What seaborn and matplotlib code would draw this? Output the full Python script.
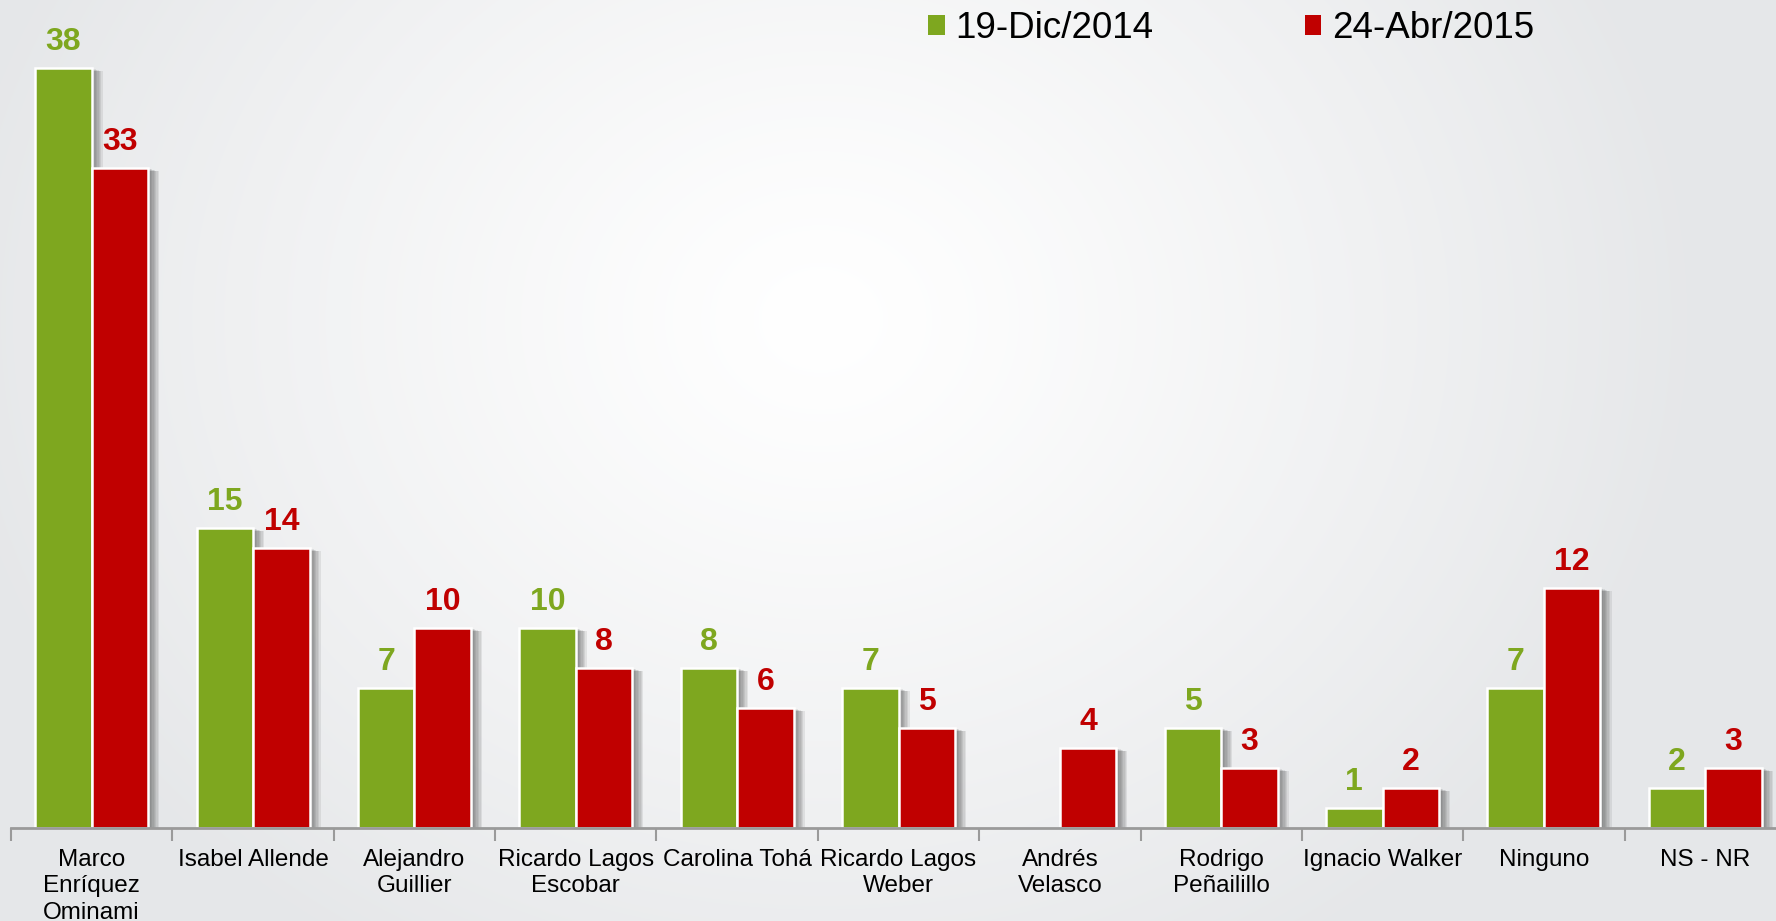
import matplotlib
matplotlib.use("Agg")
import matplotlib.pyplot as plt
import matplotlib.patheffects as pe
from matplotlib.patches import Patch
import numpy as np
import pandas as pd
import seaborn as sns

# ── Datos ────────────────────────────────────────────────────────────────────
candidatos = ["Marco\nEnríquez\nOminami", "Isabel Allende", "Alejandro\nGuillier",
              "Ricardo Lagos\nEscobar", "Carolina Tohá", "Ricardo Lagos\nWeber",
              "Andrés\nVelasco", "Rodrigo\nPeñailillo", "Ignacio Walker",
              "Ninguno", "NS - NR"]
fechas = ["19-Dic/2014", "24-Abr/2015"]
dic_2014 = [38, 15, 7, 10, 8, 7, np.nan, 5, 1, 7, 2]
abr_2015 = [33, 14, 10, 8, 6, 5, 4, 3, 2, 12, 3]

verde = "#7ea71f"
rojo = "#c00000"

df = pd.DataFrame({
    "candidato": candidatos * 2,
    "fecha": [fechas[0]] * len(candidatos) + [fechas[1]] * len(candidatos),
    "valor": dic_2014 + abr_2015,
})

sns.set_style("white")
plt.rcParams["font.family"] = ["Liberation Sans", "DejaVu Sans"]

W, H = 1776, 921
fig = plt.figure(figsize=(W / 100, H / 100), dpi=100)

# ── Fondo con degradado radial ───────────────────────────────────────────────
bg = fig.add_axes([0, 0, 1, 1], zorder=0)
yy, xx = np.mgrid[0:H, 0:W]
r = np.sqrt(((xx - 820) / 1.0) ** 2 + ((yy - 320) / 0.85) ** 2)
t = np.clip(r / 880, 0, 1) ** 1.2
c0 = np.array([1.0, 1.0, 1.0])
c1 = np.array([0.900, 0.906, 0.914])
img = c0[None, None, :] * (1 - t[..., None]) + c1[None, None, :] * t[..., None]
bg.imshow(img, aspect="auto", extent=[0, 1, 0, 1])
bg.axis("off")

# ── Barras ───────────────────────────────────────────────────────────────────
ax = fig.add_axes([11 / W, 1 - 828 / H, 1775 / W, 828 / H], zorder=1)
ax.patch.set_alpha(0)
sns.barplot(data=df, x="candidato", y="valor", hue="fecha", order=candidatos,
            hue_order=fechas, palette=[verde, rojo], width=0.7, saturation=1,
            edgecolor="white", linewidth=1.8, legend=False, ax=ax)

sombra = [pe.SimplePatchShadow(offset=(o, -o * 0.3), shadow_rgbFace="#444444", alpha=0.1)
          for o in (8, 7, 6, 5, 4, 3, 2)] + [pe.Normal()]
for p in ax.patches:
    p.set_path_effects(sombra)

for cont, col in zip(ax.containers, [verde, rojo]):
    etiquetas = [f"{v:.0f}" if np.isfinite(v) and v > 0 else "" for v in cont.datavalues]
    ax.bar_label(cont, labels=etiquetas, padding=8, color=col, fontsize=23,
                 fontweight="bold")

ax.set_xlim(-0.5, 10.5)
ax.set_ylim(0, 41.4)
ax.set_yticks([])
ax.set_xlabel("")
ax.set_ylabel("")
for s in ["left", "top", "right"]:
    ax.spines[s].set_visible(False)
ax.spines["bottom"].set_color("#9a9a9a")
ax.spines["bottom"].set_linewidth(2)
ax.set_xticks(np.arange(-0.5, 11, 1), minor=True)
ax.tick_params(axis="x", which="major", bottom=False, length=0, pad=15,
               labelsize=17.5, labelcolor="black")
ax.tick_params(axis="x", which="minor", bottom=True, length=9, width=1.5,
               color="#9a9a9a", direction="out")
for lbl in ax.get_xticklabels():
    lbl.set_linespacing(1.27)

# ── Leyenda ──────────────────────────────────────────────────────────────────
handles = [Patch(facecolor=verde, edgecolor="none"), Patch(facecolor=rojo, edgecolor="none")]
ax.legend(handles, fechas, loc="upper left", bbox_to_anchor=(928 / W, 1 - 11 / H),
          bbox_transform=fig.transFigure, ncol=2, frameon=False, fontsize=26.5,
          labelcolor="black", handlelength=0.45, handleheight=0.45,
          handletextpad=0.3, columnspacing=4.1, borderpad=0, borderaxespad=0)

fig.savefig("out.png", dpi=100)
